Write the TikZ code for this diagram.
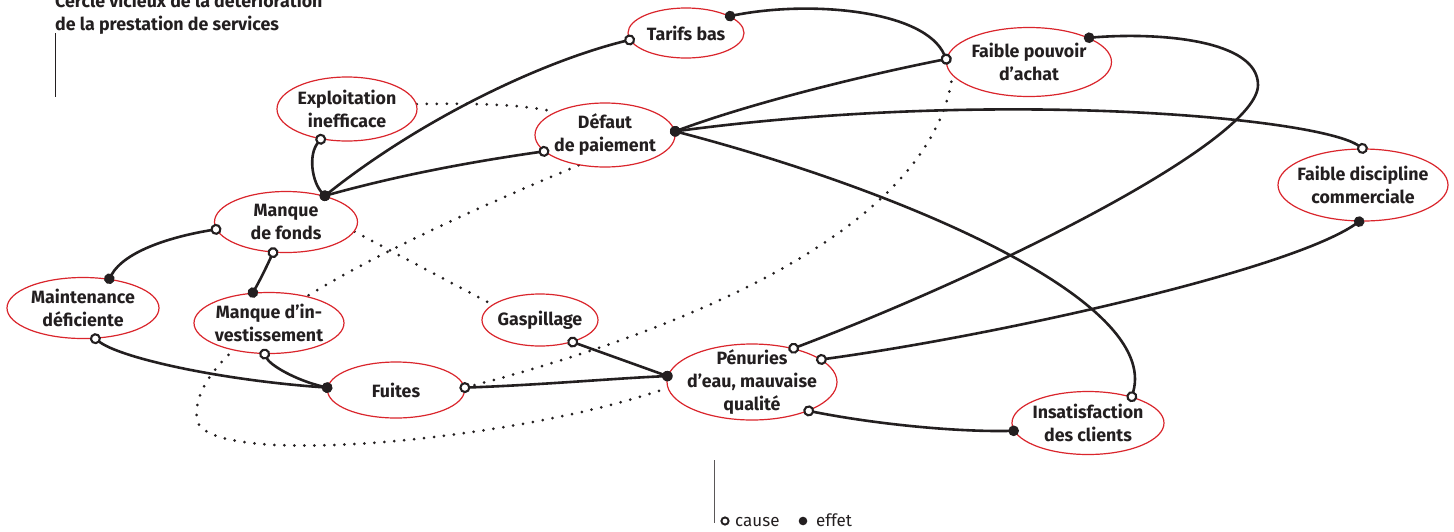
\documentclass[tikz,border=0pt]{standalone}
\usepackage{fontspec}
\setmainfont{Fira Sans}
\usetikzlibrary{shapes.geometric, arrows.meta, backgrounds}
\definecolor{ink}{RGB}{35,31,32}
\definecolor{rim}{RGB}{218,37,44}
\begin{document}
\begin{tikzpicture}[x=1pt, y=-1pt,
  bub/.style={ellipse, draw=rim, line width=1.2pt, fill=white, inner sep=0pt},
  txt/.style={font=\fontsize{17.8}{23}\selectfont\bfseries, text=ink, align=center, inner sep=0pt},
  lg/.style={font=\fontsize{17}{19}\selectfont, text=ink, inner sep=0pt},
  link/.style={draw=ink, line width=2.6pt,
    {Circle[open, fill=white, length=11pt, line width=2.1pt]}-{Circle[length=10.5pt]},
    shorten <=-5.5pt, shorten >=-5.2pt},
  hint/.style={draw=ink, line width=3pt, line cap=round, dash pattern=on 0pt off 10pt}]
\useasboundingbox (0,0) rectangle (1454,531);

% title
\node[txt, align=left, anchor=north west] (title) at (55,-8)
  {Cercle vicieux de la détérioration\\de la prestation de services};
\draw[ink, line width=1pt] (55,33) -- (55,97);

% causes and effects
\node[bub, minimum width=116pt, minimum height=50pt, label={[txt]center:Tarifs bas}] (tb) at (686,33) {};
\node[bub, minimum width=165pt, minimum height=69pt, label={[txt]center:{Faible pouvoir\\d’achat}}] (fpa) at (1029,62) {};
\node[bub, minimum width=140pt, minimum height=64pt, label={[txt]center:{Exploitation\\inefficace}}] (ei) at (347,109) {};
\node[bub, minimum width=140pt, minimum height=64pt, label={[txt]center:{Défaut\\de paiement}}] (dp) at (605,135) {};
\node[bub, minimum width=170pt, minimum height=72pt, label={[txt]center:{Faible discipline\\commerciale}}] (fdc) at (1363,185) {};
\node[bub, minimum width=143pt, minimum height=61pt, label={[txt]center:{Manque\\de fonds}}] (mf) at (286,222) {};
\node[bub, minimum width=152pt, minimum height=61pt, label={[txt]center:{Maintenance\\déficiente}}] (md) at (83,308) {};
\node[bub, minimum width=150pt, minimum height=61pt, label={[txt]center:{Manque d’in-\\vestissement}}] (mi) at (269,323) {};
\node[bub, minimum width=116pt, minimum height=52pt, label={[txt]center:Gaspillage}] (ga) at (540,320) {};
\node[bub, minimum width=137pt, minimum height=56pt, label={[txt]center:Fuites}] (fu) at (396,390) {};
\node[bub, minimum width=170pt, minimum height=76pt, label={[txt]center:{Pénuries\\d’eau, mauvaise\\qualité}}] (pe) at (752,382) {};
\node[bub, minimum width=152pt, minimum height=63pt, label={[txt]center:{Insatisfaction\\des clients}}] (ic) at (1088,423) {};

% weaker links, dotted, behind the bubbles
\begin{pgfonlayer}{background}
\fill[white] (0,0) rectangle (1454,531);
\draw[hint] (ei.4) .. controls (470,103) and (520,104) .. (dp.155);
\draw[hint] (mf.352) -- (ga.162);
\draw[hint] (fu.2) .. controls (650,340) and (930,240) .. (fpa.190);
\draw[hint] (dp.229) .. controls (400,240) and (185,340) .. (197,420)
  .. controls (208,470) and (520,440) .. (pe.184);
\end{pgfonlayer}

% cause (open) to effect (filled)
\draw[link] (ei.229) .. controls (308,155) and (312,182) .. (mf.34);
\draw[link] (tb.187) .. controls (540,62) and (420,120) .. (mf.34);
\draw[link] (dp.195) .. controls (470,162) and (400,175) .. (mf.34);
\draw[link] (fpa.178) .. controls (925,10) and (810,0) .. (tb.21);
\draw[link] (fpa.178) .. controls (880,72) and (760,100) .. (dp.3);
\draw[link] (fdc.91) .. controls (1320,118) and (1000,88) .. (dp.3);
\draw[link] (ic.31) .. controls (1160,300) and (900,190) .. (dp.3);
\draw[link] (pe.39) .. controls (1000,270) and (1258,140) .. (1258,85)
  .. controls (1258,40) and (1160,32) .. (fpa.22);
\draw[link] (pe.18) .. controls (1000,335) and (1290,270) .. (fdc.264);
\draw[link] (pe.333) .. controls (880,425) and (960,432) .. (ic.186);
\draw[link] (fu.2) .. controls (540,385) and (620,378) .. (pe.176);
\draw[link] (ga.326) -- (pe.176);
\draw[link] (mi.262) .. controls (270,365) and (295,380) .. (fu.178);
\draw[link] (md.292) .. controls (120,358) and (220,380) .. (fu.178);
\draw[link] (mf.247) .. controls (266,268) and (259,282) .. (mi.118);
\draw[link] (mf.186) .. controls (175,236) and (125,250) .. (md.48);

% legend
\draw[ink!75, line width=1pt] (714,460) -- (714,523);
\draw[ink, line width=1.9pt, fill=white] (725,521) circle (3.6pt);
\fill[ink] (803,521) circle (4.3pt);
\node[lg, anchor=base west] (lcause) at (735,526) {cause};
\node[lg, anchor=base west] (leffet) at (816,526) {effet};
\end{tikzpicture}
\end{document}
